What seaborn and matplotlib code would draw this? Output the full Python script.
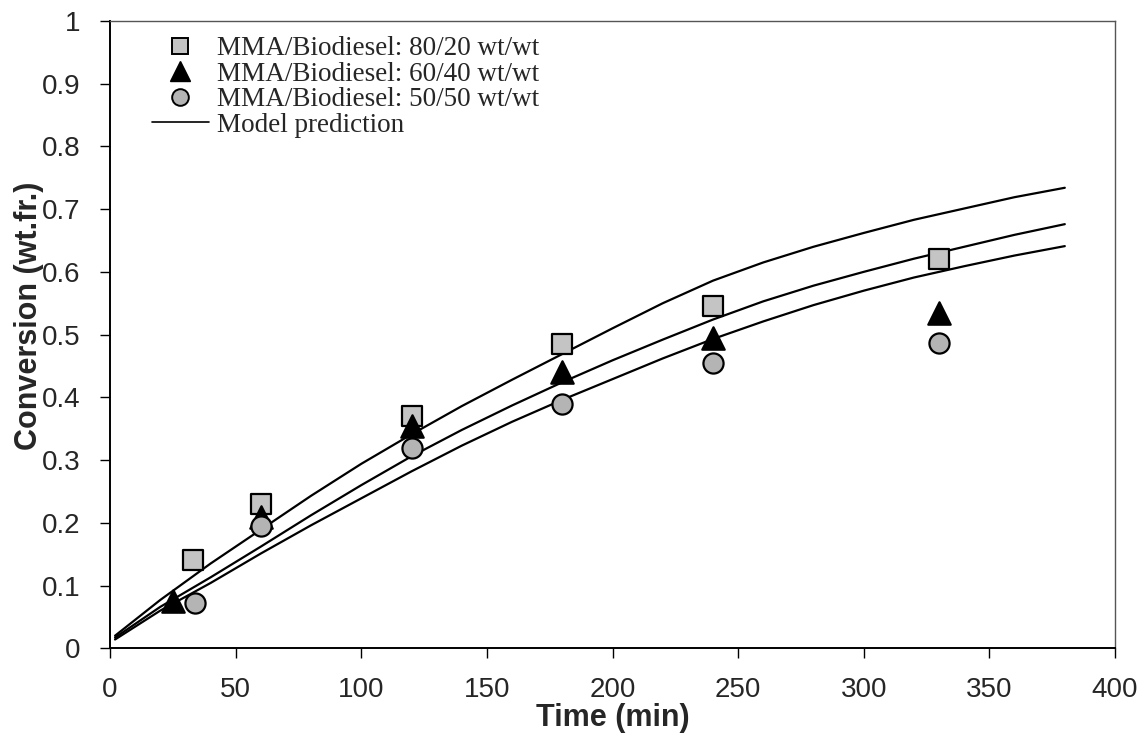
import matplotlib
matplotlib.use("Agg")
import matplotlib.pyplot as plt
import seaborn as sns
import pandas as pd
from matplotlib.lines import Line2D

# ---- data ----
time_exp = [33, 60, 120, 180, 240, 330]
conv_80_20 = [0.14, 0.23, 0.37, 0.485, 0.545, 0.62]
time_exp_6040 = [25, 60, 120, 180, 240, 330]
conv_60_40 = [0.075, 0.21, 0.355, 0.44, 0.495, 0.535]
time_exp_5050 = [34, 60, 120, 180, 240, 330]
conv_50_50 = [0.072, 0.195, 0.32, 0.39, 0.455, 0.487]

time_model = [2, 20, 40, 60, 80, 100, 120, 140, 160, 180, 200, 220, 240,
              260, 280, 300, 320, 340, 360, 380]
model_80_20 = [0.020, 0.077, 0.135, 0.189, 0.243, 0.294, 0.341, 0.386, 0.428,
               0.469, 0.510, 0.550, 0.586, 0.615, 0.640, 0.662, 0.683, 0.701,
               0.719, 0.734]
model_60_40 = [0.017, 0.066, 0.113, 0.162, 0.212, 0.260, 0.306, 0.348, 0.387,
               0.424, 0.459, 0.492, 0.524, 0.553, 0.578, 0.600, 0.621, 0.640,
               0.659, 0.676]
model_50_50 = [0.014, 0.060, 0.104, 0.151, 0.196, 0.239, 0.282, 0.323, 0.361,
               0.396, 0.429, 0.462, 0.493, 0.521, 0.547, 0.570, 0.591, 0.609,
               0.626, 0.641]

series_labels = ["MMA/Biodiesel: 80/20 wt/wt",
                 "MMA/Biodiesel: 60/40 wt/wt",
                 "MMA/Biodiesel: 50/50 wt/wt"]
x_ticks = [0, 50, 100, 150, 200, 250, 300, 350, 400]
y_ticks = [0, 0.1, 0.2, 0.3, 0.4, 0.5, 0.6, 0.7, 0.8, 0.9, 1]
y_tick_labels = ["0", "0.1", "0.2", "0.3", "0.4", "0.5", "0.6", "0.7", "0.8", "0.9", "1"]

sns.set_theme(style="white")
plt.rcParams["font.family"] = ["Liberation Sans", "DejaVu Sans"]

fig = plt.figure(figsize=(11.46, 7.46), dpi=100)
ax = fig.add_axes([0.096, 0.131, 0.877, 0.841])

# model curves
model_df = pd.concat([
    pd.DataFrame({"t": time_model, "x": model_80_20, "s": "a"}),
    pd.DataFrame({"t": time_model, "x": model_60_40, "s": "b"}),
    pd.DataFrame({"t": time_model, "x": model_50_50, "s": "c"}),
])
sns.lineplot(data=model_df, x="t", y="x", units="s", estimator=None,
             color="black", linewidth=1.6, ax=ax, legend=False)

# experimental points
exp_specs = [
    (time_exp, conv_80_20, "s", "#c4c4c4", 210),
    (time_exp_6040, conv_60_40, "^", "black", 260),
    (time_exp_5050, conv_50_50, "o", "#b4b4b4", 210),
]
for (tx, cx, mk, fc, sz), lab in zip(exp_specs, series_labels):
    sns.scatterplot(x=tx, y=cx, marker=mk, color=fc, edgecolor="black",
                    linewidth=1.6, s=sz, ax=ax, legend=False, zorder=5)

ax.set_xlim(0, 400)
ax.set_ylim(0, 1)
ax.set_xticks(x_ticks)
ax.set_xticklabels([str(v) for v in x_ticks], fontsize=20)
ax.set_yticks(y_ticks)
ax.set_yticklabels(y_tick_labels, fontsize=20)
ax.tick_params(axis="both", direction="out", length=7, width=1, color="black",
               bottom=True, left=True)
ax.tick_params(axis="y", pad=14)
ax.tick_params(axis="x", pad=14)
ax.set_xlabel("Time (min)", fontsize=22, fontweight="bold")
ax.set_ylabel("Conversion (wt.fr.)", fontsize=22, fontweight="bold")
ax.xaxis.set_label_coords(0.5, -0.088)
ax.yaxis.set_label_coords(-0.066, 0.53)

for side in ["left", "bottom"]:
    ax.spines[side].set_color("black")
    ax.spines[side].set_linewidth(1.4)
for side in ["top", "right"]:
    ax.spines[side].set_color("#555555")
    ax.spines[side].set_linewidth(1.0)

handles = [
    Line2D([], [], linestyle="none", marker="s", markersize=12,
           markerfacecolor="#c4c4c4", markeredgecolor="black", markeredgewidth=1.4),
    Line2D([], [], linestyle="none", marker="^", markersize=14,
           markerfacecolor="black", markeredgecolor="black"),
    Line2D([], [], linestyle="none", marker="o", markersize=12,
           markerfacecolor="#b4b4b4", markeredgecolor="black", markeredgewidth=1.4),
    Line2D([], [], color="black", linewidth=1.2),
]
labels = series_labels + ["Model prediction"]
leg = ax.legend(handles, labels, loc="upper left", bbox_to_anchor=(0.031, 0.993),
                frameon=False, handlelength=2.1, handletextpad=0.3,
                labelspacing=0.02, borderaxespad=0.0,
                prop={"family": ["Liberation Serif"], "size": 19.5})

fig.savefig("out.png", dpi=100, facecolor="white")
